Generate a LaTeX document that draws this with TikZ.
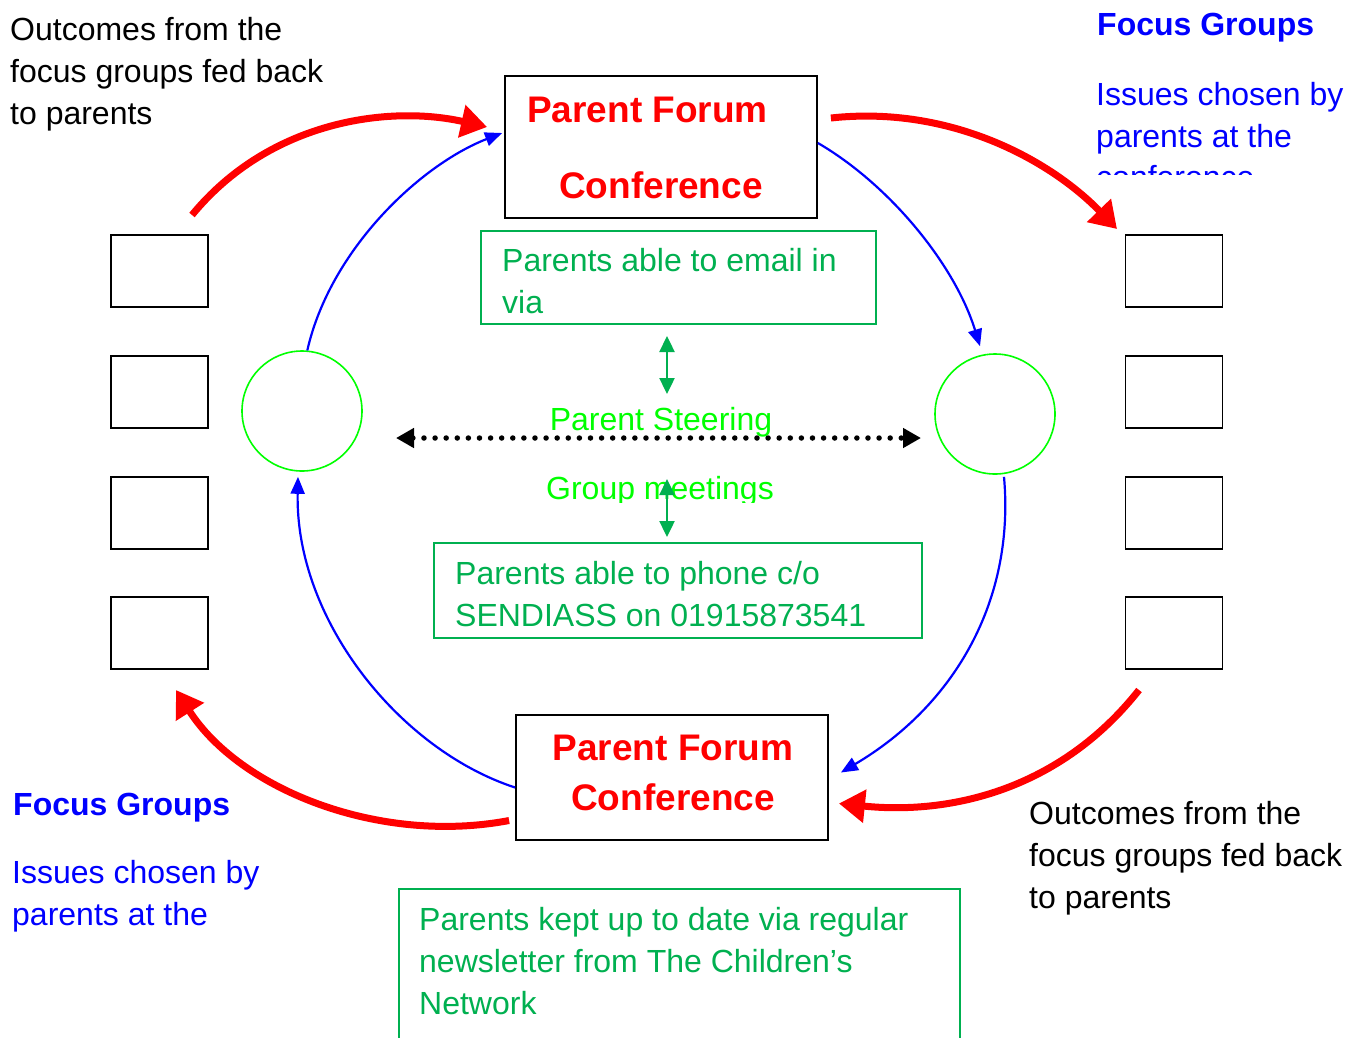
\documentclass[tikz,border=0pt]{standalone}
\usepackage{fontspec}
\setmainfont{Liberation Sans}
\usetikzlibrary{arrows.meta,calc}
\definecolor{wgreen}{RGB}{0,176,80}
\definecolor{lgreen}{RGB}{0,255,0}
\begin{document}
\begin{tikzpicture}[x=1pt,y=-1pt,
  txt/.style={inner sep=0pt, anchor=base west, align=left, font=\fontsize{32}{42}\selectfont},
  ctxt/.style={inner sep=0pt, anchor=base, font=\fontsize{32}{42}\selectfont},
  title/.style={inner sep=0pt, anchor=base, text=red, font=\bfseries\fontsize{37}{42}\selectfont},
  smallbox/.style={draw=black, line width=1.5pt, minimum width=97pt, minimum height=72pt, inner sep=0pt},
  confbox/.style={draw=black, line width=1.8pt, inner sep=0pt},
  greenbox/.style={draw=wgreen, line width=1.6pt, inner sep=0pt},
  ring/.style={circle, draw=lgreen, line width=1.6pt, minimum size=120pt, inner sep=0pt},
  bluearc/.style={draw=blue, line width=2.2pt, -{Triangle[length=17pt,width=14pt]}},
  redarc/.style={draw=red, line width=7pt, -{Triangle[length=26pt,width=32pt]}},
  greenarr/.style={draw=wgreen, line width=2.4pt, {Triangle[length=16pt,width=15pt]}-{Triangle[length=16pt,width=15pt]}},
  dotline/.style={draw=black, line width=5.5pt, line cap=round, dash pattern=on 0pt off 11.1pt, {Triangle[length=18pt,width=19pt]}-{Triangle[length=18pt,width=19pt]}}
]
\clip (0,0) rectangle (1359,1037);
\fill[white] (0,0) rectangle (1359,1037);

% conference boxes
\node[confbox, minimum width=312pt, minimum height=142pt] (topbox) at (661,147) {};
\node[title, anchor=base west] (t1a) at (527,122) {Parent Forum};
\node[title, anchor=base west] (t1b) at (559,198) {Conference};

\node[confbox, minimum width=312pt, minimum height=125pt] (botbox) at (672,777.5) {};
\node[title] (t2a) at (673,760) {Parent Forum};
\node[title] (t2b) at (673,810) {Conference};

% green boxes (text nodes anchored at the baseline of their last line)
\node[greenbox, minimum width=395pt, minimum height=93pt] (email) at (678.5,277.5) {};
\node[txt, text=wgreen] (emailt) at (502,313) {Parents able to email in\\via};

\node[greenbox, minimum width=488pt, minimum height=95pt] (phone) at (678,590.5) {};
\node[txt, text=wgreen] (phonet) at (455,626) {Parents able to phone c/o\\SENDIASS on 01915873541};

\node[greenbox, minimum width=561pt, minimum height=240pt, anchor=north west] (news) at (398,888) {};
\node[txt, text=wgreen] (newst) at (419,1014) {Parents kept up to date via regular\\newsletter from The Children’s\\Network};

% small boxes
\foreach \i/\yy in {1/271,2/392,3/513,4/633}{
  \node[smallbox] (L\i) at (159.5,\yy) {};
  \node[smallbox] (R\i) at (1174,\yy) {};
}

% rings
\node[ring] (lring) at (302,411) {};
\node[ring] (rring) at (995,414) {};

% side texts
\node[txt] (tl) at (10,124) {Outcomes from the\\focus groups fed back\\to parents};
\node[txt] (br) at (1029,908) {Outcomes from the\\focus groups fed back\\to parents};

\node[txt, text=blue, font=\bfseries\fontsize{32}{42}\selectfont] (fgtr) at (1097,35) {Focus Groups};
\node[txt, text=blue] (istr) at (1096,147) {Issues chosen by\\parents at the};
\begin{scope}
  \clip (1080,150) rectangle (1359,174);
  \node[txt, text=blue] (conftr) at (1096,188) {conference};
\end{scope}

\node[txt, text=blue, font=\bfseries\fontsize{32}{42}\selectfont] (fgbl) at (13,815) {Focus Groups};
\node[txt, text=blue] (isbl) at (12,925) {Issues chosen by\\parents at the};

% steering group
\node[ctxt, text=lgreen] (steer) at (661,430) {Parent Steering};
\begin{scope}
  \clip (500,450) rectangle (820,502);
  \node[ctxt, text=lgreen] (meet) at (660,499) {Group meetings};
\end{scope}

% coordinates
\coordinate (dl) at (396,438);
\coordinate (dr) at (921,438);
\coordinate (ga1) at (667,336);
\coordinate (ga2) at (667,394);
\coordinate (gb1) at (667,479);
\coordinate (gb2) at (667,537);

\draw[dotline] (dl) -- (dr);
\draw[greenarr] (ga1) -- (ga2);
\draw[greenarr] (gb1) -- (gb2);

% blue arcs
\draw[bluearc] (lring.85) .. controls (330,250) and (420,165) .. ($(topbox.west)+(-2,-14)$);
\draw[bluearc] ($(topbox.east)+(0,-4)$) .. controls (890,185) and (955,265) .. ($(rring.north)+(-15,-7)$);
\draw[bluearc] ($(rring.south)+(9,2)$) .. controls (1015,600) and (955,705) .. ($(botbox.east)+(12,-5)$);
\draw[bluearc] ($(botbox.west)+(0,10)$) .. controls (400,750) and (295,620) .. ($(lring.south)+(-4,5)$);

% red arcs
\coordinate (r1s) at (192,215);
\coordinate (r2e) at (1117,229);
\coordinate (r3s) at (1139,690);
\coordinate (r4e) at (176,690);
\draw[redarc] (r1s) .. controls (270,120) and (390,105) .. ($(topbox.west)+(-17,-20)$);
\draw[redarc] ($(topbox.east)+(13,-29)$) .. controls (950,105) and (1050,160) .. (r2e);
\draw[redarc] (r3s) .. controls (1060,790) and (950,815) .. ($(botbox.east)+(10,26)$);
\draw[redarc] ($(botbox.west)+(-6,43)$) .. controls (380,845) and (240,790) .. (r4e);
\end{tikzpicture}
\end{document}
